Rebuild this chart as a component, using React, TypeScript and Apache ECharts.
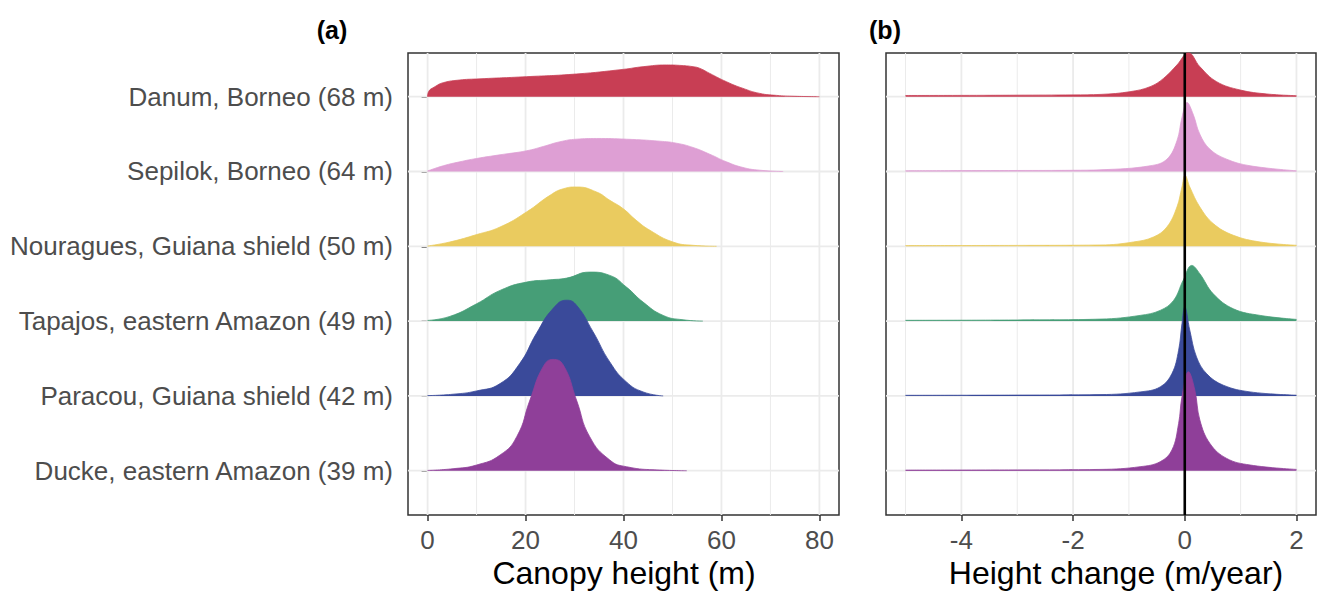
import React, { useEffect, useRef } from "react";
import * as echarts from "echarts";

// Sites from bottom (row 1) to top (row 6)
const sites = [
  "Ducke, eastern Amazon (39 m)",
  "Paracou, Guiana shield (42 m)",
  "Tapajos, eastern Amazon (49 m)",
  "Nouragues, Guiana shield (50 m)",
  "Sepilok, Borneo (64 m)",
  "Danum, Borneo (68 m)",
];
const siteColors = ["#8F3F99", "#3A4A9A", "#469E77", "#EACB5F", "#DE9FD4", "#C83E54"];
const rows = [1, 2, 3, 4, 5, 6];

// Panel (a): canopy height densities (relative density units)
const canopyDuckeX = [0, 5.2, 10, 14.8, 18.2, 20.9, 23.6, 25.6, 27.7, 30.4, 33.1, 37.2, 40.6, 47.4, 52.9];
const canopyDuckeD = [0.3, 2, 5.7, 15.7, 34, 70.7, 104, 111.3, 105.7, 70.7, 34, 10.7, 4, 0.7, 0];
const canopyParacouX = [0, 5.2, 10, 14.8, 18.8, 22.2, 25.6, 28.4, 30.4, 33.8, 37.2, 40.6, 44, 48.1];
const canopyParacouD = [0.3, 1.7, 5, 12.3, 32.3, 62.3, 87.3, 95.7, 90.7, 64, 34, 14, 4, 0];
const canopyTapajosX = [0, 4.55, 10, 14.8, 20.2, 25, 28.4, 33.1, 37.2, 40.6, 44, 48.1, 52.2, 56.2];
const canopyTapajosD = [0.7, 4.7, 17.3, 30.7, 39, 41.3, 43, 49, 45.7, 34, 19, 5.7, 1.3, 0];
const canopyNouraguesX = [0, 4.55, 10, 14.8, 20.2, 25, 27.7, 30.4, 34.5, 37.2, 39.9, 42.6, 45.4, 50.1, 54.2, 59];
const canopyNouraguesD = [0.3, 4.3, 11.7, 19.3, 34.3, 51, 57.5, 59.3, 54.3, 46, 37.7, 26, 16, 4.3, 1, 0];
const canopySepilokX = [0, 3.2, 6.6, 10, 14.8, 20.2, 23.6, 27, 30.4, 34.5, 40.6, 47.4, 50.8, 54.2, 57.6, 61, 64.4, 67.8, 72.6];
const canopySepilokD = [0.5, 5.7, 9.7, 13, 16.7, 20.7, 25, 29.7, 32.3, 33, 32.3, 30.3, 28.3, 24, 17.3, 9.7, 4, 1.3, 0];
const canopyDanumX = [0, 0.2, 1.5, 3.2, 6.6, 10, 20.2, 30.4, 39.9, 44, 48.8, 51.5, 54.2, 55.6, 57.6, 61, 64.4, 67.8, 71.2, 75, 80];
const canopyDanumD = [0, 5, 10, 14, 16.7, 17.7, 20, 22.7, 27.3, 30, 31.7, 31.3, 30, 28.3, 23.3, 15, 8.3, 3.3, 1.3, 0.4, 0];

// Panel (b): height change densities (relative density units)
const changeDuckeX = [-5, -3, -1.5, -0.8, -0.44, -0.23, -0.11, -0.05, 0.065, 0.18, 0.27, 0.45, 0.75, 1.17, 2];
const changeDuckeD = [0.6, 0.8, 1.3, 4, 9, 20.7, 47.3, 74, 99, 80.7, 50.7, 27.3, 12.3, 5.7, 1.3];
const changeParacouX = [-5, -3, -1.5, -0.8, -0.44, -0.23, -0.11, -0.05, 0, 0.09, 0.21, 0.39, 0.69, 1.17, 2];
const changeParacouD = [0.6, 0.8, 1.3, 4, 9, 22.3, 45.7, 72.3, 89, 65.7, 39, 22.3, 10.7, 4, 0.7];
const changeTapajosX = [-5, -3, -1.5, -0.8, -0.44, -0.2, -0.03, 0.125, 0.27, 0.51, 0.87, 1.35, 2];
const changeTapajosD = [0.8, 1.1, 2, 5.7, 10.7, 20.7, 40.7, 55.7, 47.3, 27.3, 12.3, 5.7, 1.7];
const changeNouraguesX = [-5, -3, -1.5, -0.92, -0.56, -0.32, -0.14, -0.05, 0.005, 0.09, 0.27, 0.51, 0.87, 1.35, 2];
const changeNouraguesD = [0.7, 0.9, 1.3, 4.3, 9.3, 19.3, 39.3, 59.3, 71, 59.3, 39.3, 22.7, 11, 4.3, 1];
const changeSepilokX = [-5, -3, -2, -1.5, -0.62, -0.32, -0.14, -0.05, 0.04, 0.15, 0.27, 0.45, 0.75, 1.17, 2];
const changeSepilokD = [0.8, 1, 1.2, 1.7, 5.7, 12.3, 30.7, 54, 69, 57.3, 37.3, 22.3, 12.3, 5.7, 0.7];
const changeDanumX = [-5, -4, -3, -2, -1.5, -0.98, -0.62, -0.38, -0.14, 0.065, 0.27, 0.57, 0.99, 1.47, 2];
const changeDanumD = [1.2, 1.3, 1.5, 1.8, 2.3, 5, 10, 18.3, 31.7, 44, 30, 15, 6.7, 2.7, 1];

// Axis ticks
const canopyMajorTicks = [0, 20, 40, 60, 80];
const canopyMinorTicks = [10, 30, 50, 70];
const changeMajorTicks = [-4, -2, 0, 2];
const changeMinorTicks = [-5, -3, -1, 1];

const canopyXs = [canopyDuckeX, canopyParacouX, canopyTapajosX, canopyNouraguesX, canopySepilokX, canopyDanumX];
const canopyDs = [canopyDuckeD, canopyParacouD, canopyTapajosD, canopyNouraguesD, canopySepilokD, canopyDanumD];
const changeXs = [changeDuckeX, changeParacouX, changeTapajosX, changeNouraguesX, changeSepilokX, changeDanumX];
const changeDs = [changeDuckeD, changeParacouD, changeTapajosD, changeNouraguesD, changeSepilokD, changeDanumD];

// ridgeline scale: density units -> rows
const ridgeScale = 1 / 74.8;

const FONT = "'Liberation Sans', Arial, Helvetica, sans-serif";

function gridSeries(axisIndex: number, major: number[], minor: number[]) {
  const data: number[][] = [];
  minor.forEach((v) => data.push([v, 1]));
  major.forEach((v) => data.push([v, 0]));
  rows.forEach((r) => data.push([r, 2]));
  return {
    type: "custom",
    xAxisIndex: axisIndex,
    yAxisIndex: axisIndex,
    z: 1,
    silent: true,
    data,
    renderItem: (params: any, api: any) => {
      const cs = params.coordSys;
      const v = api.value(0);
      const kind = api.value(1);
      if (kind === 2) {
        const y = api.coord([major[0], v])[1];
        return {
          type: "line",
          shape: { x1: cs.x, y1: y, x2: cs.x + cs.width, y2: y },
          style: { stroke: "#EBEBEB", lineWidth: 1.8 },
        };
      }
      const x = api.coord([v, 1])[0];
      return {
        type: "line",
        shape: { x1: x, y1: cs.y, x2: x, y2: cs.y + cs.height },
        style: { stroke: "#EBEBEB", lineWidth: kind === 0 ? 1.8 : 1.0 },
      };
    },
  };
}

function ridgeSeries(axisIndex: number, xs: number[][], ds: number[][], smooth: number) {
  const out: any[] = [];
  for (let i = rows.length - 1; i >= 0; i--) {
    const xArr = xs[i];
    const dArr = ds[i];
    const base = rows[i];
    out.push({
      type: "line",
      xAxisIndex: axisIndex,
      yAxisIndex: axisIndex,
      z: 2,
      silent: true,
      showSymbol: false,
      symbol: "none",
      smooth,
      lineStyle: { width: 0.8, color: siteColors[i] },
      areaStyle: { color: siteColors[i], opacity: 1, origin: base },
      data: xArr.map((x, k) => [x, base + dArr[k] * ridgeScale]),
    });
  }
  return out;
}

export default function App() {
  const ref = useRef<HTMLDivElement>(null);
  useEffect(() => {
    document.body.style.margin = "0";
    if (!ref.current) return;
    const chart = echarts.init(ref.current, undefined, { renderer: "svg" });
    const yMin = 0.408;
    const yMax = 6.584;
    const axisTextColor = "#4D4D4D";
    const option: any = {
      animation: false,
      backgroundColor: "#FFFFFF",
      textStyle: { fontFamily: FONT },
      grid: [
        { left: 408, right: 1318 - 839, top: 53, bottom: 591 - 515, show: true, borderColor: "#333333", borderWidth: 1.5, backgroundColor: "transparent", containLabel: false },
        { left: 886, right: 2, top: 53, bottom: 591 - 515, show: true, borderColor: "#333333", borderWidth: 1.5, backgroundColor: "transparent", containLabel: false },
      ],
      xAxis: [
        {
          type: "value",
          gridIndex: 0,
          min: -4,
          max: 84,
          axisLine: { show: false },
          splitLine: { show: false },
          axisTick: { show: true, customValues: canopyMajorTicks, length: 6, lineStyle: { color: "#333333", width: 1.5 } },
          axisLabel: { show: true, customValues: canopyMajorTicks, margin: 12, fontSize: 26, lineHeight: 26, color: axisTextColor, fontFamily: FONT },
        },
        {
          type: "value",
          gridIndex: 1,
          min: -5.35,
          max: 2.35,
          axisLine: { show: false },
          splitLine: { show: false },
          axisTick: { show: true, customValues: changeMajorTicks, length: 6, lineStyle: { color: "#333333", width: 1.5 } },
          axisLabel: { show: true, customValues: changeMajorTicks, margin: 12, fontSize: 26, lineHeight: 26, color: axisTextColor, fontFamily: FONT },
        },
      ],
      yAxis: [
        {
          type: "value",
          gridIndex: 0,
          min: yMin,
          max: yMax,
          axisLine: { show: false },
          splitLine: { show: false },
          axisTick: { show: true, customValues: rows, length: 6, lineStyle: { color: "#333333", width: 1.5 } },
          axisLabel: {
            show: true,
            customValues: rows,
            margin: 15,
            fontSize: 26,
            color: axisTextColor,
            fontFamily: FONT,
            formatter: (v: number) => sites[Math.round(v) - 1] || "",
          },
        },
        {
          type: "value",
          gridIndex: 1,
          min: yMin,
          max: yMax,
          axisLine: { show: false },
          splitLine: { show: false },
          axisTick: { show: false },
          axisLabel: { show: false },
        },
      ],
      series: [
        gridSeries(0, canopyMajorTicks, canopyMinorTicks),
        gridSeries(1, changeMajorTicks, changeMinorTicks),
        ...ridgeSeries(0, canopyXs, canopyDs, 0.5),
        ...ridgeSeries(1, changeXs, changeDs, 0.4),
        {
          type: "custom",
          xAxisIndex: 1,
          yAxisIndex: 1,
          z: 5,
          silent: true,
          data: [[0, 1]],
          renderItem: (params: any, api: any) => {
            const cs = params.coordSys;
            const x = api.coord([api.value(0), 1])[0];
            return {
              type: "line",
              shape: { x1: x, y1: cs.y, x2: x, y2: cs.y + cs.height },
              style: { stroke: "#000000", lineWidth: 2.6 },
            };
          },
        },
      ],
      graphic: [
        { type: "text", x: 332, y: 30, style: { text: "(a)", font: `bold 25px ${FONT}`, fill: "#000", align: "center", verticalAlign: "middle" } },
        { type: "text", x: 885, y: 30, style: { text: "(b)", font: `bold 25px ${FONT}`, fill: "#000", align: "center", verticalAlign: "middle" } },
        { type: "text", x: 624, y: 573, style: { text: "Canopy height (m)", font: `32px ${FONT}`, fill: "#000", align: "center", verticalAlign: "middle" } },
        { type: "text", x: 1116, y: 573, style: { text: "Height change (m/year)", font: `32px ${FONT}`, fill: "#000", align: "center", verticalAlign: "middle" } },
      ],
    };
    chart.setOption(option);
    return () => chart.dispose();
  }, []);
  return <div ref={ref} style={{ position: "fixed", left: 0, top: 0, width: 1318, height: 591 }} />;
}
